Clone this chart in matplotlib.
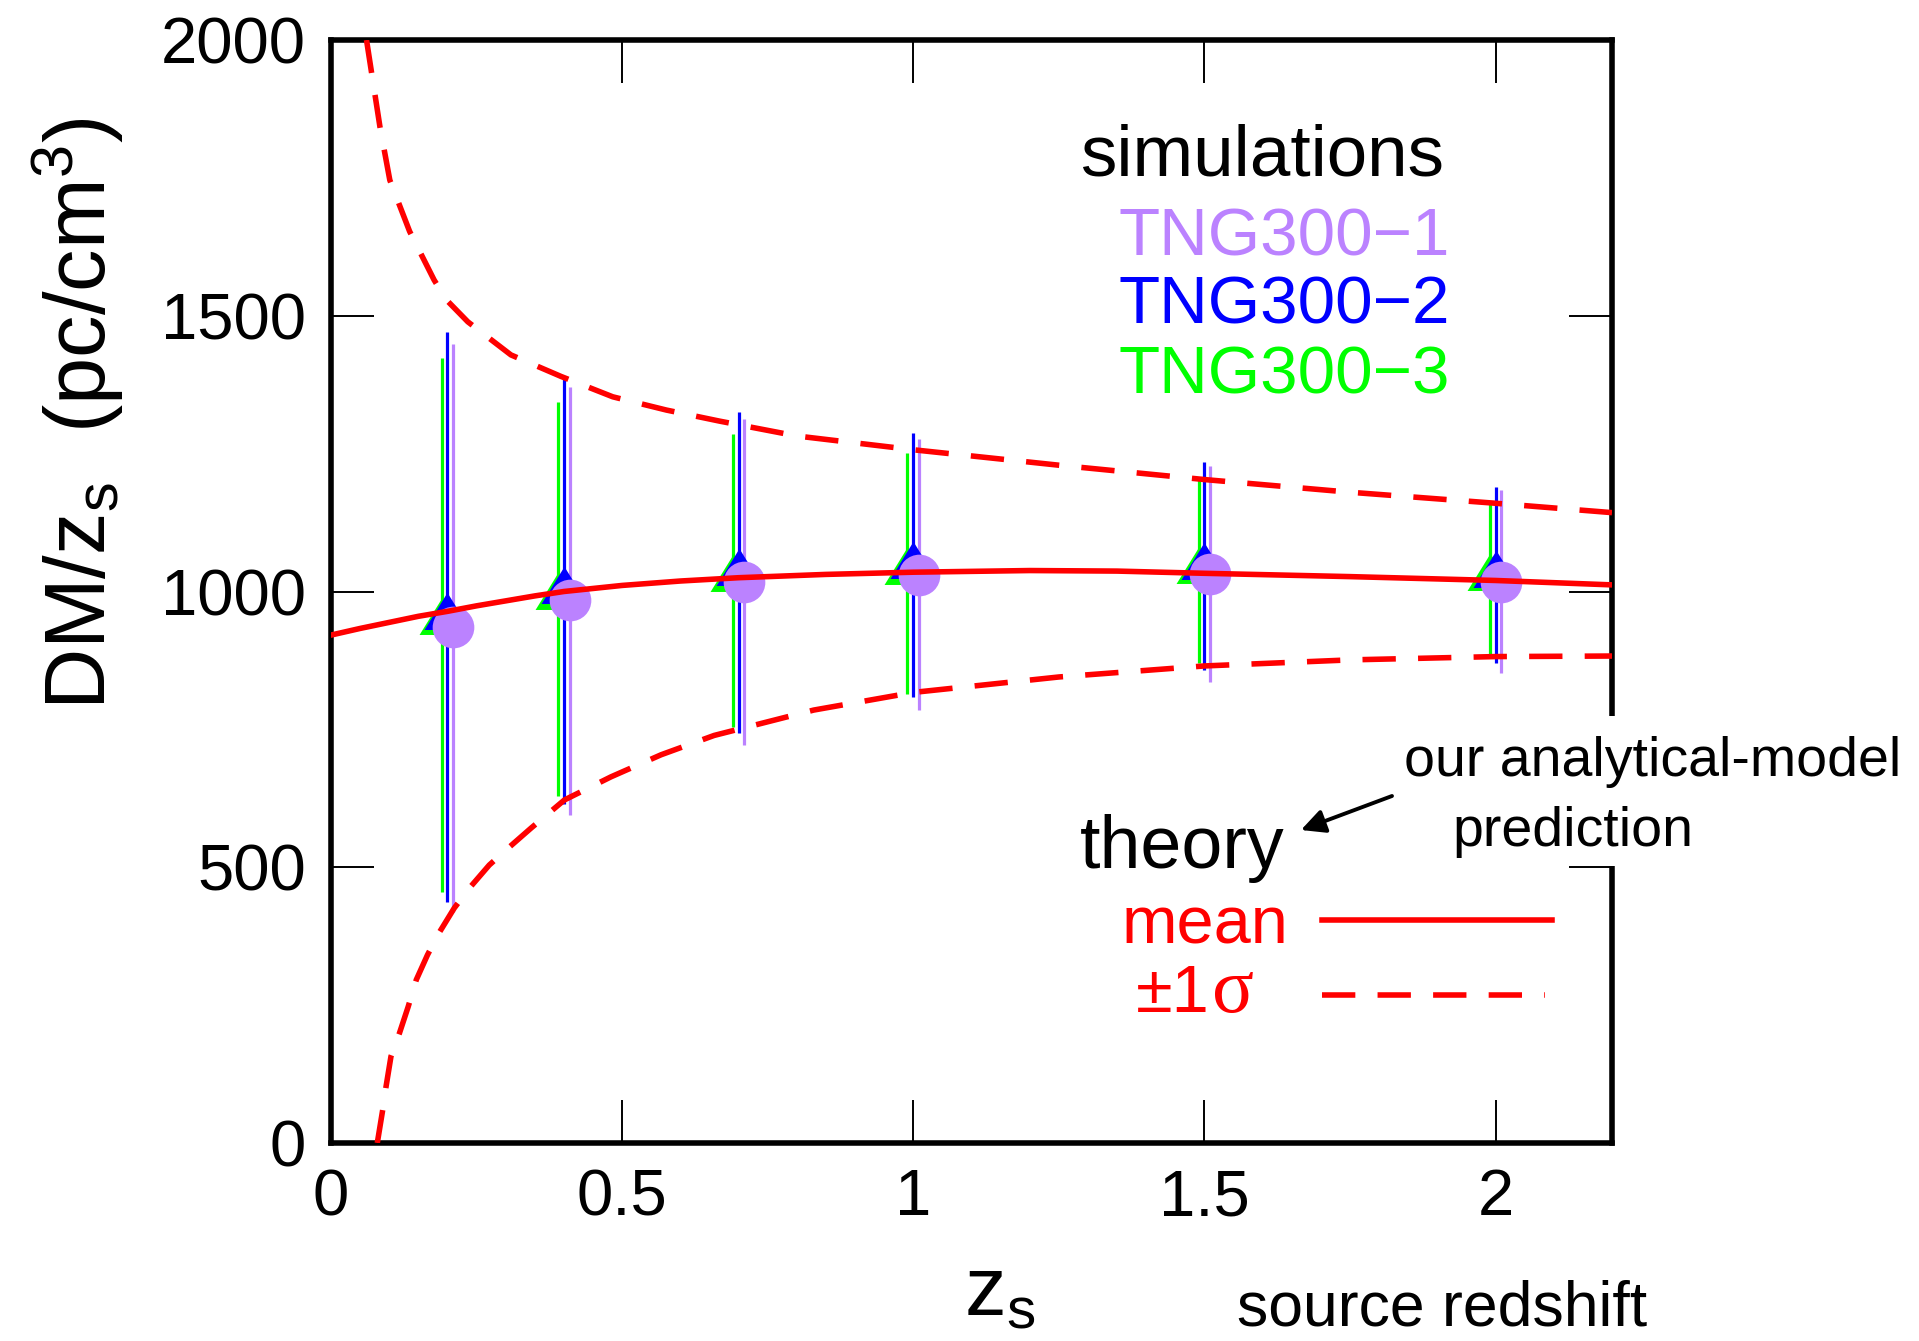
import matplotlib
matplotlib.use('Agg')
import matplotlib.pyplot as plt
from matplotlib.path import Path
from matplotlib.patches import Rectangle
from matplotlib.lines import Line2D

plt.rcParams['font.family'] = ['Liberation Sans', 'DejaVu Sans']
plt.rcParams['mathtext.fontset'] = 'custom'
plt.rcParams['mathtext.rm'] = 'Liberation Sans'
plt.rcParams['mathtext.it'] = 'Liberation Sans'
plt.rcParams['mathtext.bf'] = 'Liberation Sans'

# ---------------- data ----------------
z_sim = [0.2, 0.4, 0.7, 1.0, 1.5, 2.0]

tng1_mean = [935, 985, 1018, 1030, 1031, 1018]
tng1_lo = [418, 594, 722, 785, 835, 852]
tng1_hi = [1449, 1371, 1312, 1276, 1228, 1184]

tng2_mean = [952, 1000, 1032, 1044, 1043, 1028]
tng2_lo = [437, 615, 744, 808, 858, 871]
tng2_hi = [1470, 1387, 1325, 1287, 1235, 1190]

tng3_mean = [943, 988, 1021, 1033, 1035, 1023]
tng3_lo = [456, 630, 755, 815, 870, 881]
tng3_hi = [1423, 1344, 1286, 1252, 1202, 1164]

theory_z = [0.0, 0.05, 0.1, 0.15, 0.2, 0.25, 0.3, 0.35, 0.4, 0.5, 0.6, 0.7,
            0.85, 1.0, 1.2, 1.35, 1.5, 1.75, 2.0, 2.2]
theory_mean = [921, 933, 944, 955, 964, 974, 983, 992, 1000, 1011, 1019, 1025,
               1031, 1035, 1038, 1037, 1033, 1027, 1020, 1012]

upper_z = [0.061, 0.084, 0.101, 0.135, 0.177, 0.198, 0.235, 0.309, 0.395, 0.484,
           0.576, 0.667, 0.80, 1.0, 1.25, 1.5, 1.75, 2.0, 2.2]
upper = [2000, 1843, 1746, 1653, 1565, 1529, 1489, 1429, 1390, 1353,
         1329, 1309, 1282, 1257, 1229, 1203, 1180, 1160, 1143]

lower_z = [0.0795, 0.0888, 0.0945, 0.103, 0.1175, 0.1325, 0.1465, 0.1657, 0.185,
           0.2117, 0.2375, 0.2718, 0.3035, 0.3436, 0.4009, 0.481, 0.567, 0.658,
           0.829, 1.0, 1.25, 1.5, 1.75, 2.0, 2.2]
lower = [0, 60, 102, 157, 199, 247, 296, 341, 380,
         426, 462, 504, 534, 571, 622, 664, 704, 739,
         785, 817, 845, 865, 876, 882, 883]

x_ticks = [0, 0.5, 1, 1.5, 2]
x_ticklabels = ['0', '0.5', '1', '1.5', '2']
y_ticks = [0, 500, 1000, 1500, 2000]
y_ticklabels = ['0', '500', '1000', '1500', '2000']

# ---------------- style ----------------
PURPLE = '#bb82ff'
BLUE = '#0000ff'
GREEN = '#00ff00'
RED = '#ff0000'
LW_RED = 4.0
DASH = (6.0, 4.0)

W, H, DPI = 1919, 1341, 100
fig = plt.figure(figsize=(W / DPI, H / DPI), dpi=DPI)
ax = fig.add_axes([331 / W, 1 - 1143 / H, (1612 - 331) / W, (1143 - 40) / H])


def fp(px, py):
    return px / W, 1 - py / H


tri = Path([(0, 1.12), (-1, -0.5), (1, -0.5), (0, 1.12)],
           [Path.MOVETO, Path.LINETO, Path.LINETO, Path.CLOSEPOLY])

series = [
    (tng3_mean, tng3_lo, tng3_hi, GREEN, -0.01, tri, 37),
    (tng2_mean, tng2_lo, tng2_hi, BLUE, 0.0, tri, 37),
    (tng1_mean, tng1_lo, tng1_hi, PURPLE, 0.01, 'o', 30),
]

for mean, lo, hi, col, dz, mk, ms in series:
    xs = [z + dz for z in z_sim]
    ax.vlines(xs, lo, hi, colors=col, lw=2.3, zorder=2)

for mean, lo, hi, col, dz, mk, ms in series:
    xs = [z + dz for z in z_sim]
    ax.plot(xs, mean, linestyle='none', marker=mk, ms=ms, color=col,
            mew=0, zorder=3)

ax.plot(theory_z, theory_mean, color=RED, lw=LW_RED, zorder=4)
ax.plot(upper_z, upper, color=RED, lw=LW_RED, dashes=DASH, zorder=4)
ax.plot(lower_z, lower, color=RED, lw=LW_RED, dashes=DASH, zorder=4)

ax.set_xlim(0, 2.2)
ax.set_ylim(0, 2000)
ax.set_xticks(x_ticks)
ax.set_xticklabels(x_ticklabels)
ax.set_yticks(y_ticks)
ax.set_yticklabels(y_ticklabels)
ax.tick_params(direction='in', length=31, width=1.4, top=True, right=True,
               labelsize=47, color='black')
ax.tick_params(axis='x', pad=18)
ax.tick_params(axis='y', pad=18)
for s in ax.spines.values():
    s.set_linewidth(4)

# axis labels
fig.text(*fp(78, 338 * 1.224), 'DM/z$_{\\rm s}$  (pc/cm$^{3}$)', rotation=90,
         ha='center', va='center', fontsize=61)
fig.text(*fp(964, 1315), 'z$_{\\rm s}$', ha='left', va='baseline', fontsize=60)
fig.text(*fp(1237, 1325), 'source redshift', ha='left', va='baseline', fontsize=45)

# simulations key
fig.text(*fp(1080, 175), 'simulations', ha='left', va='baseline', fontsize=52.5)
fig.text(*fp(1118, 255), 'TNG300\u22121', ha='left', va='baseline', fontsize=48.5, color=PURPLE)
fig.text(*fp(1118, 324), 'TNG300\u22122', ha='left', va='baseline', fontsize=48.5, color=BLUE)
fig.text(*fp(1118, 393), 'TNG300\u22123', ha='left', va='baseline', fontsize=48.5, color=GREEN)

# theory key
fig.text(*fp(1080, 868), 'theory', ha='left', va='baseline', fontsize=53)
fig.text(*fp(1288, 944), 'mean', ha='right', va='baseline', fontsize=48, color=RED)
fig.text(*fp(1136, 1012), '\u00b11', ha='left', va='baseline', fontsize=48, color=RED)
fig.text(*fp(1212, 1012), '\u03c3', ha='left', va='baseline', fontsize=56, color=RED,
         family=['Liberation Serif', 'DejaVu Serif'])
fig.add_artist(Line2D([1322 / W, 1552 / W], [1 - 920 / H] * 2, color=RED, lw=LW_RED))
fig.add_artist(Line2D([1322 / W, 1545 / W], [1 - 995 / H] * 2, color=RED, lw=LW_RED,
                      dashes=DASH))

# gap in right spine behind annotation
fig.add_artist(Rectangle(fp(1595, 866), 35 / W, (866 - 716) / H,
                         facecolor='white', edgecolor='none', zorder=10))
fig.text(*fp(1404, 776), 'our analytical-model', ha='left', va='baseline',
         fontsize=40, zorder=11)
fig.text(*fp(1573, 846), 'prediction', ha='center', va='baseline',
         fontsize=40, zorder=11)
ax.annotate('', xy=(1301, H - 830), xycoords='figure pixels',
            xytext=(1392, H - 796), textcoords='figure pixels',
            arrowprops=dict(arrowstyle='-|>', color='black', lw=2.8,
                            mutation_scale=36, shrinkA=0, shrinkB=0))

fig.savefig('out.png', dpi=DPI)
